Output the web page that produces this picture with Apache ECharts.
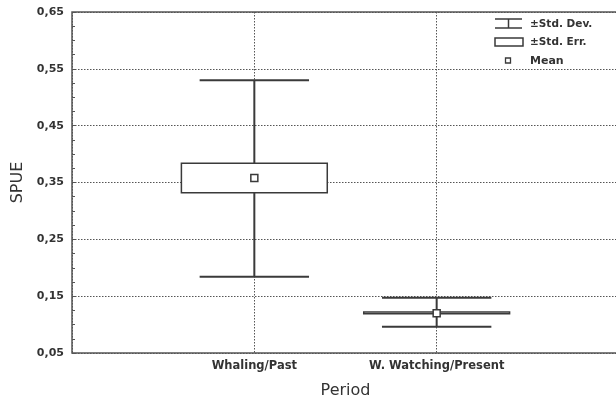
<!DOCTYPE html>
<html>
<head>
<meta charset="utf-8">
<script src="https://cdn.jsdelivr.net/npm/echarts@6/dist/echarts.min.js"></script>
<style>
  html, body { margin: 0; padding: 0; background: #fff; }
  #chart { width: 616px; height: 401px; }
</style>
</head>
<body>
<div id="chart"></div>
<script>
var categories = ['Whaling/Past', 'W. Watching/Present'];
var means = [0.358, 0.120];
var seLow = [0.332, 0.119];
var seHigh = [0.384, 0.122];
var sdLow = [0.184, 0.096];
var sdHigh = [0.530, 0.147];

var font = '"DejaVu Sans", Verdana, sans-serif';
var ink = '#3a3a3a';

var boxData = categories.map(function (c, i) {
    return [i + 1, means[i], seLow[i], seHigh[i], sdLow[i], sdHigh[i]];
});

function renderBox(params, api) {
    var x = api.value(0);
    var mean = api.coord([x, api.value(1)]);
    var seLo = api.coord([x, api.value(2)]);
    var seHi = api.coord([x, api.value(3)]);
    var sdLo = api.coord([x, api.value(4)]);
    var sdHi = api.coord([x, api.value(5)]);
    var boxW = api.size([0.8, 0])[0];
    var capW = api.size([0.6, 0])[0];
    var cx = mean[0];
    var lineStyle = { stroke: ink, lineWidth: 2 };
    return {
        type: 'group',
        children: [
            { type: 'line', shape: { x1: cx, y1: sdLo[1], x2: cx, y2: sdHi[1] }, style: lineStyle },
            { type: 'line', shape: { x1: cx - capW / 2, y1: sdHi[1], x2: cx + capW / 2, y2: sdHi[1] }, style: lineStyle },
            { type: 'line', shape: { x1: cx - capW / 2, y1: sdLo[1], x2: cx + capW / 2, y2: sdLo[1] }, style: lineStyle },
            { type: 'rect', shape: { x: cx - boxW / 2, y: seHi[1], width: boxW, height: seLo[1] - seHi[1] },
              style: { fill: '#fff', stroke: ink, lineWidth: 1.5 } },
            { type: 'rect', shape: { x: cx - 3.5, y: mean[1] - 3.5, width: 7, height: 7 },
              style: { fill: '#fff', stroke: ink, lineWidth: 1.5 } }
        ]
    };
}

var myChart = echarts.init(document.getElementById('chart'));
var option = {
    backgroundColor: '#fff',
    animation: false,
    grid: {
        left: 72, top: 12, bottom: 48, width: 547,
        outerBoundsMode: 'none',
        containLabel: false,
        show: true, borderColor: '#555', borderWidth: 1.5, backgroundColor: 'transparent'
    },
    xAxis: {
        type: 'value',
        min: 0, max: 3, interval: 1,
        name: 'Period',
        nameLocation: 'middle',
        nameGap: 30,
        nameTextStyle: { fontFamily: font, fontSize: 16, color: '#333' },
        axisLine: { show: false },
        axisTick: { show: false },
        axisLabel: {
            margin: 7,
            fontFamily: font, fontSize: 11.5, fontWeight: 'bold', color: '#333',
            formatter: function (v) { return categories[v - 1] || ''; }
        },
        splitLine: { show: true, lineStyle: { color: '#555', type: [1.5, 1.5], width: 1 } }
    },
    yAxis: {
        type: 'value',
        min: 0.05, max: 0.65, interval: 0.1,
        name: 'SPUE',
        nameLocation: 'middle',
        nameGap: 46,
        nameTextStyle: { fontFamily: font, fontSize: 16, color: '#333' },
        axisLine: { show: false },
        axisTick: { show: true, inside: true, length: 4, lineStyle: { color: '#555' } },
        minorTick: { show: true, splitNumber: 4, length: 3, lineStyle: { color: '#555' } },
        axisLabel: {
            margin: 8,
            fontFamily: font, fontSize: 11, fontWeight: 'bold', color: '#333',
            formatter: function (v) { return v.toFixed(2).replace('.', ','); }
        },
        splitLine: { show: true, lineStyle: { color: '#555', type: [1.5, 1.5], width: 1 } }
    },
    graphic: [
        // legend: Std. Dev. icon
        { type: 'line', shape: { x1: 495, y1: 19, x2: 522, y2: 19 }, style: { stroke: ink, lineWidth: 1.5 } },
        { type: 'line', shape: { x1: 495, y1: 28, x2: 522, y2: 28 }, style: { stroke: ink, lineWidth: 1.5 } },
        { type: 'line', shape: { x1: 508.5, y1: 19, x2: 508.5, y2: 28 }, style: { stroke: ink, lineWidth: 1.5 } },
        { type: 'text', x: 530, y: 24, style: { text: '\u00b1Std. Dev.', font: 'bold 10.5px ' + font, fill: '#333', verticalAlign: 'middle' } },
        // legend: Std. Err. icon
        { type: 'rect', shape: { x: 495, y: 38, width: 28, height: 8 }, style: { fill: '#fff', stroke: ink, lineWidth: 1.5 } },
        { type: 'text', x: 530, y: 42, style: { text: '\u00b1Std. Err.', font: 'bold 10.5px ' + font, fill: '#333', verticalAlign: 'middle' } },
        // legend: Mean icon
        { type: 'rect', shape: { x: 505.5, y: 58, width: 5, height: 5 }, style: { fill: '#fff', stroke: ink, lineWidth: 1.3 } },
        { type: 'text', x: 530, y: 61, style: { text: 'Mean', font: 'bold 11px ' + font, fill: '#333', verticalAlign: 'middle' } }
    ],
    series: [{
        type: 'custom',
        name: 'SPUE',
        renderItem: renderBox,
        encode: { x: 0, y: [1, 2, 3, 4, 5] },
        data: boxData,
        z: 5
    }]
};
myChart.setOption(option);

window.addEventListener('resize', function () {
    myChart.resize();
});
</script>
</body>
</html>
